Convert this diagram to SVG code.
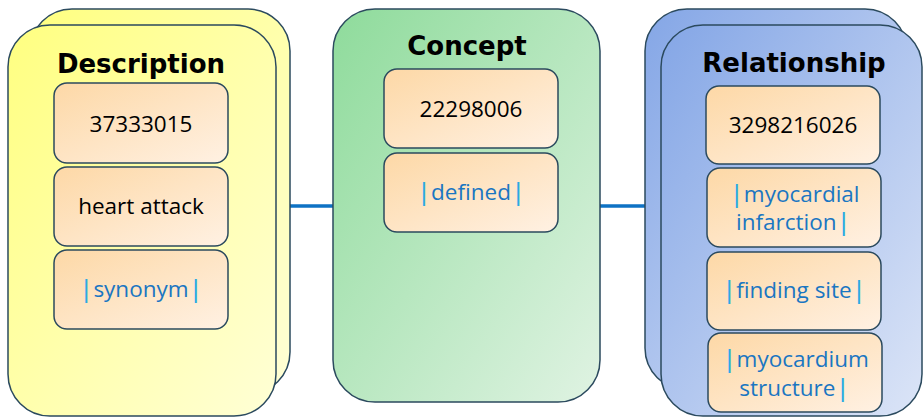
<svg xmlns="http://www.w3.org/2000/svg" width="923" height="418" viewBox="0 0 923 418">
<defs>
<linearGradient id="gy" x1="0" y1="0" x2="1" y2="1"><stop offset="0" stop-color="#ffff80"/><stop offset="1" stop-color="#ffffd6"/></linearGradient>
<linearGradient id="gg" x1="0" y1="0" x2="1" y2="1"><stop offset="0" stop-color="#8edb9b"/><stop offset="1" stop-color="#e0f3e3"/></linearGradient>
<linearGradient id="gb" x1="0" y1="0" x2="1" y2="1"><stop offset="0" stop-color="#84a6e6"/><stop offset="1" stop-color="#dce5f7"/></linearGradient>
<linearGradient id="go" x1="0" y1="0" x2="1" y2="1"><stop offset="0" stop-color="#fdd8a6"/><stop offset="1" stop-color="#fff1e3"/></linearGradient>
</defs>
<style>
.card{stroke:#2b4a5e;stroke-width:1.5}
.box{fill:url(#go);stroke:#2b4a5e;stroke-width:1.5}
.title{font-family:"DejaVu Sans",Verdana,sans-serif;font-weight:bold;font-size:26px;fill:#000;text-anchor:middle}
.t{font-family:"Open Sans","DejaVu Sans",sans-serif;font-size:22.5px;fill:#000;text-anchor:middle}
.b{fill:#1a76c2}
.p{fill:#2aaae3;font-weight:600}
.conn{stroke:#0e72c4;stroke-width:3.5;fill:none}
</style>
<g id="connectors">
<line class="conn" x1="290" y1="206" x2="334" y2="206"/>
<line class="conn" x1="600" y1="206" x2="646" y2="206"/>
</g>
<g id="description">
<rect class="card" x="30" y="9" width="260" height="385" rx="42" fill="url(#gy)"/>
<rect class="card" x="8" y="25" width="268" height="391" rx="42" fill="url(#gy)"/>
<text class="title" x="141" y="73">Description</text>
<rect class="box" x="54" y="83" width="174" height="80" rx="13"/>
<text class="t" x="141" y="132">37333015</text>
<rect class="box" x="54" y="167" width="174" height="79" rx="13"/>
<text class="t" x="141" y="214">heart attack</text>
<rect class="box" x="54" y="250" width="174" height="79" rx="13"/>
<text class="t" x="141" y="297"><tspan class="p">|</tspan><tspan class="b" dx="1">synonym</tspan><tspan class="p" dx="1">|</tspan></text>
</g>
<g id="concept">
<rect class="card" x="333" y="9" width="267" height="393" rx="42" fill="url(#gg)"/>
<text class="title" x="467" y="55">Concept</text>
<rect class="box" x="384" y="69" width="174" height="79" rx="13"/>
<text class="t" x="471" y="117">22298006</text>
<rect class="box" x="384" y="153" width="174" height="79" rx="13"/>
<text class="t" x="471" y="200"><tspan class="p">|</tspan><tspan class="b" dx="1">defined</tspan><tspan class="p" dx="1">|</tspan></text>
</g>
<g id="relationship">
<rect class="card" x="645" y="9" width="262" height="381" rx="42" fill="url(#gb)"/>
<rect class="card" x="661" y="25" width="261" height="391" rx="42" fill="url(#gb)"/>
<text class="title" x="794" y="72">Relationship</text>
<rect class="box" x="706" y="86" width="174" height="78" rx="13"/>
<text class="t" x="793" y="133">3298216026</text>
<rect class="box" x="707" y="168" width="174" height="79" rx="13"/>
<text class="t" x="795" y="202"><tspan class="p">|</tspan><tspan class="b" dx="1">myocardial</tspan></text>
<text class="t" x="793" y="230"><tspan class="b">infarction</tspan><tspan class="p" dx="1">|</tspan></text>
<rect class="box" x="707" y="252" width="174" height="78" rx="13"/>
<text class="t" x="794" y="298"><tspan class="p">|</tspan><tspan class="b" dx="1">finding site</tspan><tspan class="p" dx="1">|</tspan></text>
<rect class="box" x="708" y="333" width="174" height="79" rx="13"/>
<text class="t" x="796" y="367"><tspan class="p">|</tspan><tspan class="b" dx="1">myocardium</tspan></text>
<text class="t" x="794" y="396"><tspan class="b">structure</tspan><tspan class="p" dx="1">|</tspan></text>
</g>
</svg>
